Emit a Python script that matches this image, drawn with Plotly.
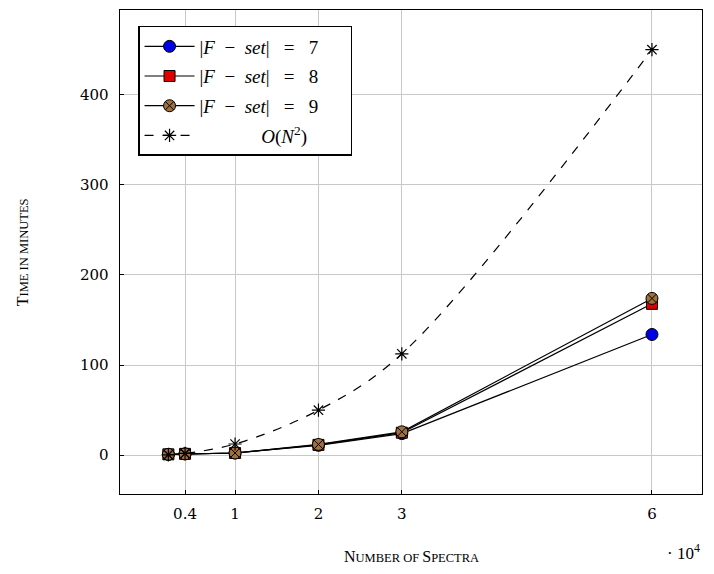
import plotly.graph_objects as go

spectra = [0.2, 0.4, 1, 2, 3, 6]
time_f7 = [1, 1.5, 2.5, 11, 24, 134]
time_f8 = [1, 1.5, 2.5, 11.5, 25, 168]
time_f9 = [1, 1.5, 2.5, 12, 26, 174]
o_n2 = [0.5, 2, 12.5, 50, 112.5, 450]

x_ticks = [0.4, 1, 2, 3, 6]
x_tick_labels = ["0.4", "1", "2", "3", "6"]
y_ticks = [0, 100, 200, 300, 400]
y_tick_labels = ["0", "100", "200", "300", "400"]

FONT = "Liberation Serif"
TICKFONT = "DejaVu Serif"

fig = go.Figure()
fig.add_trace(go.Scatter(
    x=spectra, y=time_f7, mode="lines+markers", legendgroup="a",
    name="|<i>F</i>  −  <i>set</i>|   =   7",
    line=dict(color="black", width=1.2),
    marker=dict(symbol="circle", size=12, color="#0000e6", line=dict(color="black", width=1)),
))
fig.add_trace(go.Scatter(
    x=spectra, y=time_f8, mode="lines+markers", legendgroup="b",
    name="|<i>F</i>  −  <i>set</i>|   =   8",
    line=dict(color="black", width=1.2),
    marker=dict(symbol="square", size=11, color="#e00000", line=dict(color="black", width=1)),
))
fig.add_trace(go.Scatter(
    x=spectra, y=time_f9, mode="lines+markers", legendgroup="c",
    name="|<i>F</i>  −  <i>set</i>|   =   9",
    line=dict(color="black", width=1.2),
    marker=dict(symbol="circle-x", size=12, color="#a0703c", line=dict(color="black", width=1)),
))
fig.add_trace(go.Scatter(
    x=spectra, y=o_n2, mode="lines+markers", legendgroup="d",
    name="             <i>O</i>(<i>N</i><sup>2</sup>)        ",
    line=dict(color="black", width=1.2, dash="dash", shape="spline"),
    marker=dict(symbol="asterisk-open", size=11, color="black", line=dict(color="black", width=1.2)),
))

fig.update_layout(
    width=706, height=566,
    margin=dict(l=112, r=12, t=2, b=80),
    plot_bgcolor="white", paper_bgcolor="white",
    font=dict(family=FONT, size=15, color="black"),
    legend=dict(
        x=0.031, y=0.967, xanchor="left", yanchor="top",
        bordercolor="black", borderwidth=1.5, bgcolor="white",
        font=dict(family=FONT, size=19),
        tracegroupgap=2, itemwidth=50,
    ),
    showlegend=True,
)
fig.update_xaxes(
    range=[-0.38, 6.6],
    tickvals=x_ticks, ticktext=x_tick_labels,
    showgrid=True, gridcolor="#c8c8c8", gridwidth=1,
    showline=True, linecolor="black", linewidth=1.2, mirror=True,
    ticks="inside", ticklen=4, tickcolor="black",
    zeroline=False, ticklabelstandoff=6,
    tickfont=dict(family=TICKFONT, size=15),
)
fig.update_yaxes(
    range=[-43, 494],
    tickvals=y_ticks,
    showgrid=True, gridcolor="#c8c8c8", gridwidth=1,
    showline=True, linecolor="black", linewidth=1.2, mirror=True,
    ticks="inside", ticklen=4, tickcolor="black",
    zeroline=False, showticklabels=False,
)

for v, lab in zip(y_ticks, y_tick_labels):
    fig.add_annotation(
        xref="paper", yref="y", x=0, y=v, xanchor="right", yanchor="middle",
        xshift=-9, showarrow=False, text=lab,
        font=dict(family=TICKFONT, size=15),
    )

fig.add_annotation(
    xref="paper", yref="paper", x=0.5, y=-0.13, yanchor="middle", showarrow=False,
    text="N<span style='font-size:12.5px'>UMBER OF </span>S<span style='font-size:12.5px'>PECTRA</span>",
    font=dict(family=FONT, size=16),
)
fig.add_annotation(
    xref="paper", yref="paper", x=-0.168, y=0.5, xanchor="center", showarrow=False, textangle=-90,
    text="T<span style='font-size:12.5px'>IME IN MINUTES</span>",
    font=dict(family=FONT, size=16),
)
fig.add_annotation(
    xref="paper", yref="paper", x=1.0, y=-0.12, xanchor="right", yanchor="middle", showarrow=False,
    text="· 10<sup>4</sup>",
    font=dict(family=FONT, size=17),
)

fig.write_html("out.html")
